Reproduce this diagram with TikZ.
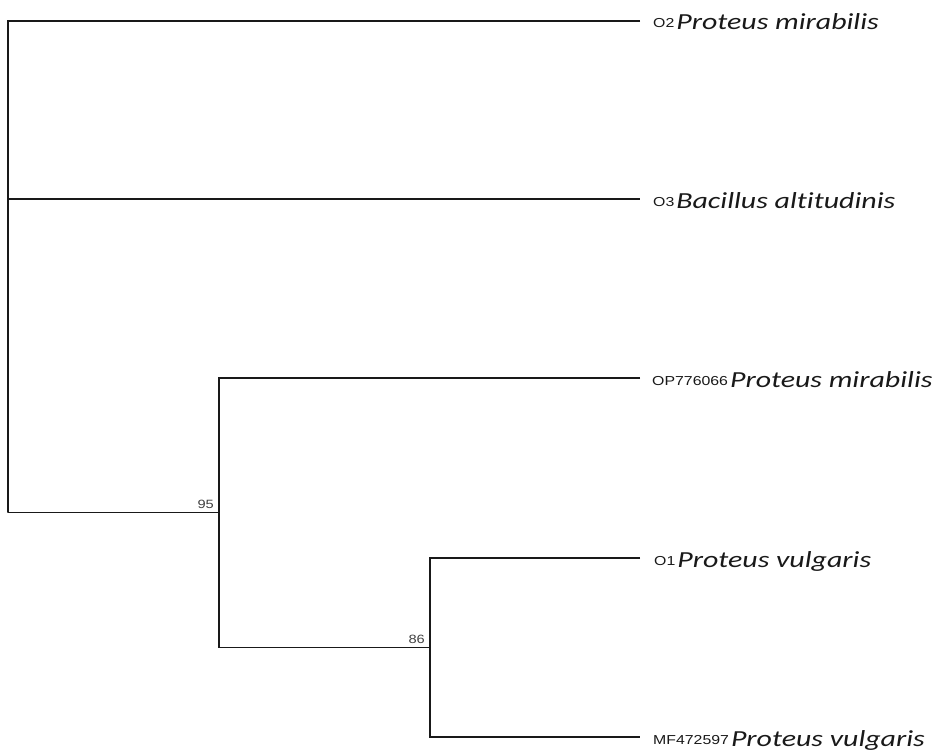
\documentclass[tikz,border=0pt]{standalone}
\usepackage{fontspec}
\newfontfamily\taxfont{Carlito}[FakeStretch=1.3, Ligatures=NoCommon]
\newfontfamily\accfont{Liberation Sans}[FakeStretch=1.22]
\usetikzlibrary{positioning,calc}

\tikzset{
  branch/.style={line width=1.4pt, draw=black!90},
  leaf/.style={anchor=base west, inner sep=0pt, text=black!90},
  boot/.style={inner sep=0pt, font=\accfont\fontsize{12}{12}\selectfont, text=black!75},
}
% accession number + species name
\newcommand{\taxon}[2]{\raisebox{2pt}{\accfont\fontsize{13}{13}\selectfont #1}\kern2pt{\taxfont\itshape\fontsize{23}{23}\selectfont #2}}

\begin{document}
\begin{tikzpicture}[x=1pt, y=-1pt]
    \useasboundingbox (0,0) rectangle (942,752);

    % internal nodes
    \coordinate (root) at (8,512.5);
    \coordinate (n95) at (219,512.5);
    \coordinate (n86) at (430,647.5);

    % leaves (branch tips)
    \coordinate (l1) at (640,21);
    \coordinate (l2) at (640,199);
    \coordinate (l3) at (640,378);
    \coordinate (l4) at (640,558);
    \coordinate (l5) at (640,737);

    % branches
    \draw[branch] (l1) -| (root) |- (l2);
    \draw[branch] (root) -- (n95);
    \draw[branch] (l3) -| (n95) |- (n86);
    \draw[branch] (l4) -| (n86) |- (l5);

    % bootstrap values
    \node[boot, above left=4pt and 5pt of n95] (b95) {95};
    \node[boot, above left=4pt and 5pt of n86] (b86) {86};

    % taxa
    \node[leaf] (t1) at ($(l1)+(13,9)$) {\taxon{O2}{Proteus mirabilis}};
    \node[leaf] (t2) at ($(l2)+(13,9)$) {\taxon{O3}{Bacillus altitudinis}};
    \node[leaf] (t3) at ($(l3)+(12,9)$) {\taxon{OP776066}{Proteus mirabilis}};
    \node[leaf] (t4) at ($(l4)+(14,9)$) {\taxon{O1}{Proteus vulgaris}};
    \node[leaf] (t5) at ($(l5)+(13,9)$) {\taxon{MF472597}{Proteus vulgaris}};
\end{tikzpicture}
\end{document}
